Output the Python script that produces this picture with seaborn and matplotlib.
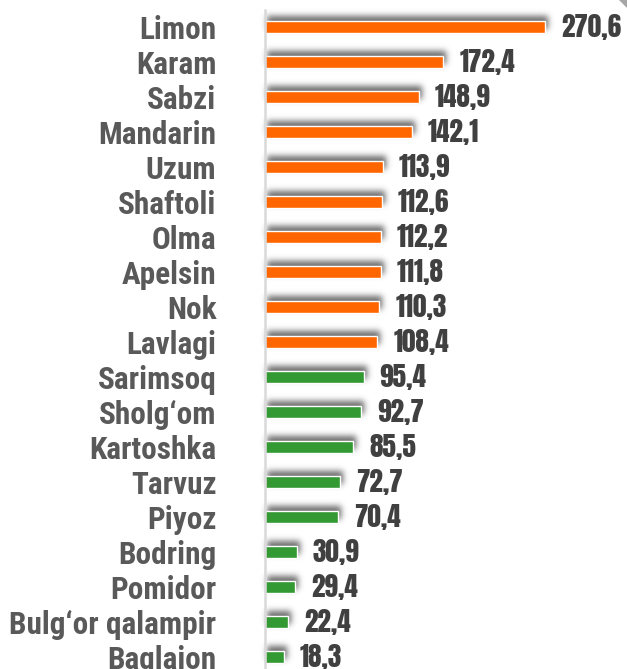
import numpy as np
import pandas as pd
import matplotlib
matplotlib.use("Agg")
import matplotlib.pyplot as plt
from matplotlib.patches import Polygon
import seaborn as sns

# Mahsulotlar va ularning ko'rsatkichlari
categories = ["Limon", "Karam", "Sabzi", "Mandarin", "Uzum", "Shaftoli", "Olma",
              "Apelsin", "Nok", "Lavlagi", "Sarimsoq", "Sholg‘om", "Kartoshka",
              "Tarvuz", "Piyoz", "Bodring", "Pomidor", "Bulg‘or qalampir", "Baqlajon"]
values = [270.6, 172.4, 148.9, 142.1, 113.9, 112.6, 112.2, 111.8, 110.3, 108.4,
          95.4, 92.7, 85.5, 72.7, 70.4, 30.9, 29.4, 22.4, 18.3]
groups = ["oshgan"] * 10 + ["kamaygan"] * 9
palette = {"oshgan": "#FF6600", "kamaygan": "#339933"}

df = pd.DataFrame({"mahsulot": categories, "qiymat": values, "guruh": groups})

W, H, DPI = 627, 669, 100
X0 = 265            # chap o'q chizig'i (px)
PX_PER_UNIT = 1.035 # gorizontal masshtab
ROW = 35.0          # qatorlar orasidagi masofa (px)
ROW0 = 27.0         # birinchi qator markazi (px)


def _blur(a, sigma):
    r = int(3 * sigma)
    x = np.arange(-r, r + 1)
    k = np.exp(-x ** 2 / (2 * sigma ** 2))
    k /= k.sum()
    a = np.apply_along_axis(lambda m: np.convolve(m, k, mode="same"), 0, a)
    a = np.apply_along_axis(lambda m: np.convolve(m, k, mode="same"), 1, a)
    return a


def shadow_filter(im, dpi):
    """Ustunlar ortidagi yumshoq kulrang soya."""
    pad = 16
    alpha = np.pad(im[..., 3], pad)
    alpha = _blur(alpha, 3.0)
    alpha = np.roll(alpha, -5, axis=0)   # yuqoriga
    alpha = np.roll(alpha, 2, axis=1)    # o'ngga
    out = np.zeros(alpha.shape + (4,))
    out[..., :3] = 0.3
    out[..., 3] = np.clip(alpha * 0.8, 0, 1)
    return out, -pad, -pad


sns.set_theme(style="white")
plt.rcParams["font.family"] = ["Roboto Condensed", "DejaVu Sans"]

fig = plt.figure(figsize=(W / DPI, H / DPI), dpi=DPI)
ax = fig.add_axes([X0 / W, 0, 1 - X0 / W, 1])

# soya qatlami
sns.barplot(data=df, x="qiymat", y="mahsulot", hue="guruh", palette=palette,
            orient="h", width=0.34, saturation=1, legend=False, ax=ax, zorder=1)
for p in ax.patches:
    p.set_agg_filter(shadow_filter)
n_cont = len(ax.containers)

# asosiy ustunlar
sns.barplot(data=df, x="qiymat", y="mahsulot", hue="guruh", palette=palette,
            orient="h", width=0.34, saturation=1, legend=False, ax=ax, zorder=2)

for cont in ax.containers[n_cont:]:
    ax.bar_label(cont, fmt=lambda v: f"{v:.1f}".replace(".", ","),
                 padding=11.5, color="#404040", fontsize=19.5,
                 family=["Anton", "DejaVu Sans"])

ax.set_xlim(0, (W - X0) / PX_PER_UNIT)
ax.set_ylim((H - ROW0) / ROW, -ROW0 / ROW)
ax.set_xlabel("")
ax.set_ylabel("")
ax.xaxis.set_visible(False)
ax.tick_params(axis="y", length=0, pad=35)
for lab in ax.get_yticklabels():
    lab.set_fontsize(22.5)
    lab.set_fontweight("bold")
    lab.set_color("#595959")

for s in ("top", "right", "bottom"):
    ax.spines[s].set_visible(False)
ax.spines["left"].set_color("#d9d9d9")
ax.spines["left"].set_linewidth(1.8)
ax.spines["left"].set_bounds((H - ROW0) / ROW, (10 - ROW0) / ROW)

# yuqori o'ng burchakdagi kichik bezak
fig.add_artist(Polygon([(619 / W, 1), (1, 1), (1, 1 - 8 / H)],
                       closed=True, transform=fig.transFigure,
                       facecolor="#a6a6a6", edgecolor="none"))

fig.savefig("out.png", dpi=DPI)
